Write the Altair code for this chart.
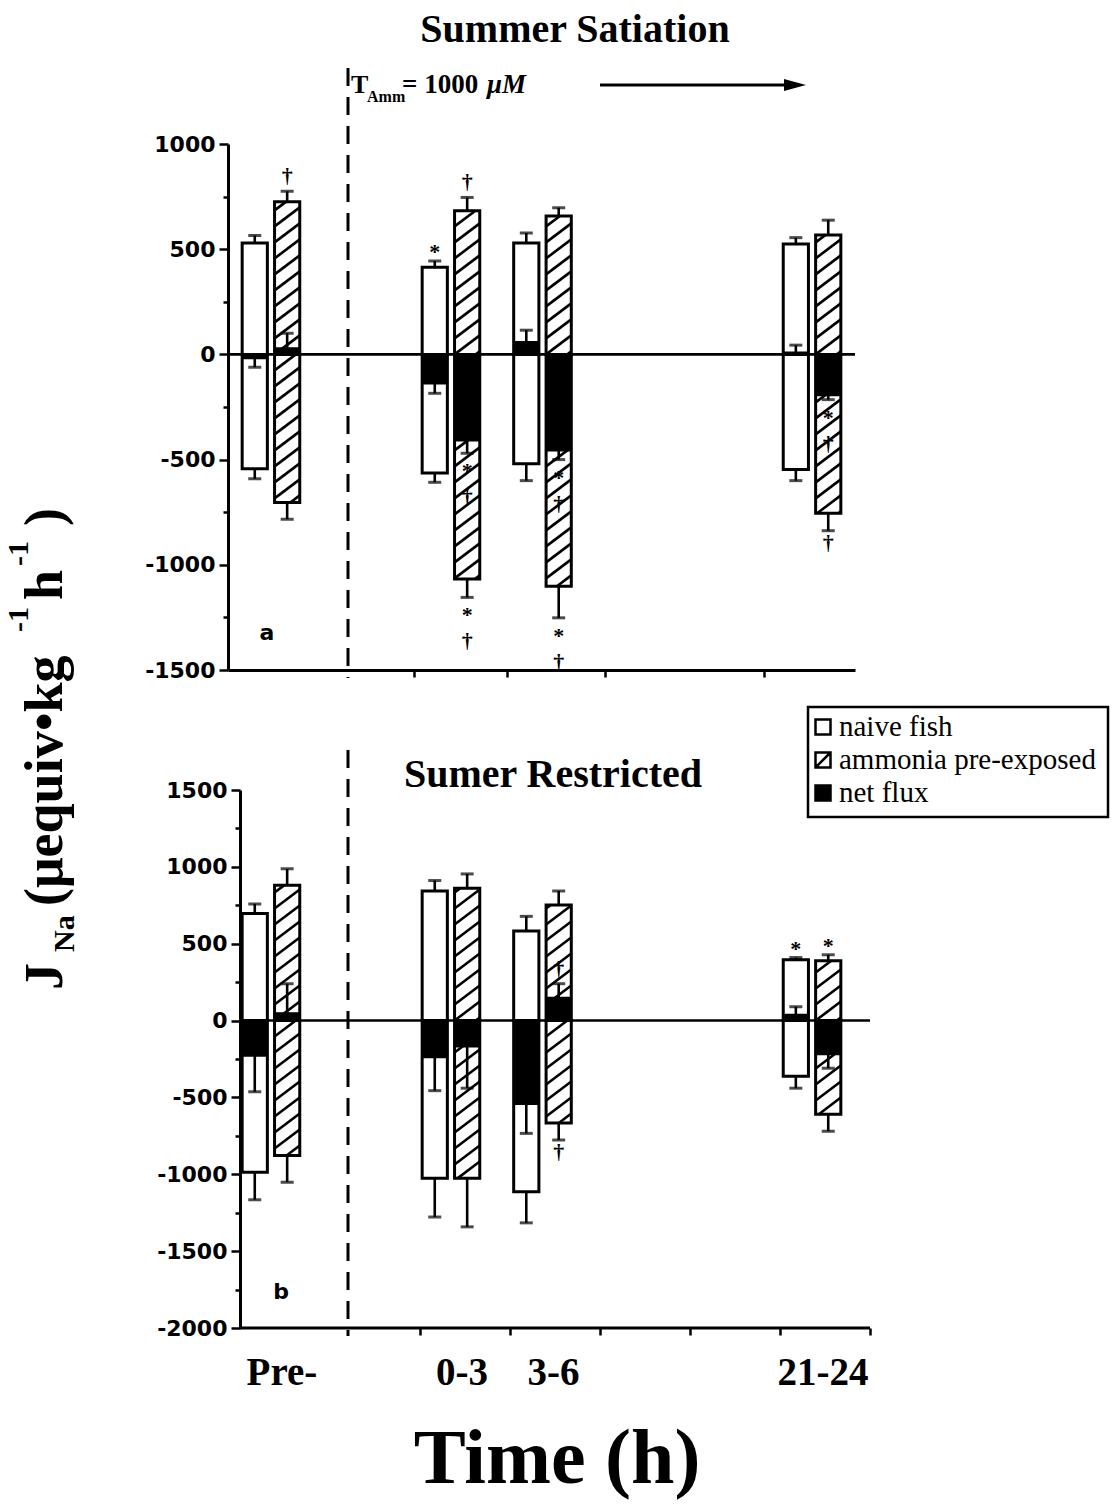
import altair as alt
import numpy as np
import pandas as pd

# ------------------------------------------------------------------ data
periods = ["Pre-", "0-3", "3-6", "21-24"]
period_x = [0.344, 2.344, 3.361, 6.356]      # placement of each sampling period on the time axis
exposure_x = 1.2                             # start of exposure to 1000 uM total ammonia
groups = ["naive fish", "ammonia pre-exposed"]
legend_items = ["naive fish", "ammonia pre-exposed", "net flux"]

# (a) summer satiation: mean Na+ influx / efflux / net flux and the end of the SEM bar
sat_naive_in = [530, 414, 529, 525]
sat_naive_in_lim = [565, 444, 577, 555]
sat_naive_out = [-543, -564, -520, -547]
sat_naive_out_lim = [-591, -608, -600, -600]
sat_naive_net = [-20, -140, 60, 10]
sat_naive_net_lim = [-61, -185, 115, 44]
sat_amm_in = [725, 683, 658, 568]
sat_amm_in_lim = [775, 746, 697, 638]
sat_amm_out = [-704, -1067, -1102, -755]
sat_amm_out_lim = [-783, -1155, -1252, -838]
sat_amm_net = [30, -410, -458, -195]
sat_amm_net_lim = [100, -470, -500, -215]

# (b) summer restricted ration
res_naive_in = [696, 843, 582, 395]
res_naive_in_lim = [759, 911, 678, 410]
res_naive_out = [-987, -1025, -1114, -363]
res_naive_out_lim = [-1165, -1278, -1316, -440]
res_naive_net = [-230, -240, -544, 40]
res_naive_net_lim = [-463, -456, -734, 90]
res_amm_in = [881, 861, 752, 389]
res_amm_in_lim = [987, 954, 843, 428]
res_amm_out = [-878, -1025, -666, -609]
res_amm_out_lim = [-1051, -1342, -777, -720]
res_amm_net = [50, -170, 150, -220]
res_amm_net_lim = [240, -440, 240, -310]

# significance symbols: (period, group, flux component, order away from the SEM cap, symbol)
sat_marks = [
    ("Pre-", "ammonia pre-exposed", "in", 1, "\u2020"),
    ("0-3", "naive fish", "in", 1, "*"),
    ("0-3", "ammonia pre-exposed", "in", 1, "\u2020"),
    ("0-3", "ammonia pre-exposed", "out", 1, "*"),
    ("0-3", "ammonia pre-exposed", "out", 2, "\u2020"),
    ("0-3", "ammonia pre-exposed", "net", 1, "*"),
    ("0-3", "ammonia pre-exposed", "net", 2, "\u2020"),
    ("3-6", "ammonia pre-exposed", "out", 1, "*"),
    ("3-6", "ammonia pre-exposed", "out", 2, "\u2020"),
    ("3-6", "ammonia pre-exposed", "net", 1, "*"),
    ("3-6", "ammonia pre-exposed", "net", 2, "\u2020"),
    ("21-24", "ammonia pre-exposed", "out", 1, "\u2020"),
    ("21-24", "ammonia pre-exposed", "net", 1, "*"),
    ("21-24", "ammonia pre-exposed", "net", 2, "\u2020"),
]
res_marks = [
    ("3-6", "ammonia pre-exposed", "net", 1, "\u2020"),
    ("3-6", "ammonia pre-exposed", "out", 1, "\u2020"),
    ("21-24", "naive fish", "in", 1, "*"),
    ("21-24", "ammonia pre-exposed", "in", 1, "*"),
]

sat_values = {
    "naive fish": {"in": (sat_naive_in, sat_naive_in_lim), "out": (sat_naive_out, sat_naive_out_lim),
                   "net": (sat_naive_net, sat_naive_net_lim)},
    "ammonia pre-exposed": {"in": (sat_amm_in, sat_amm_in_lim), "out": (sat_amm_out, sat_amm_out_lim),
                            "net": (sat_amm_net, sat_amm_net_lim)},
}
res_values = {
    "naive fish": {"in": (res_naive_in, res_naive_in_lim), "out": (res_naive_out, res_naive_out_lim),
                   "net": (res_naive_net, res_naive_net_lim)},
    "ammonia pre-exposed": {"in": (res_amm_in, res_amm_in_lim), "out": (res_amm_out, res_amm_out_lim),
                            "net": (res_amm_net, res_amm_net_lim)},
}

# ------------------------------------------------------------------ layout
PX_PER_UNIT = 90.0           # horizontal pixels per axis unit
X_MIN = -12 / PX_PER_UNIT    # left edge of both plot areas
HALF_GAP = 0.18              # bar centre offset from its period position
HALF_BAR = 0.14              # half bar width
SERIF = "Liberation Serif"
SANS = "DejaVu Sans"


def flux_table(values):
    rows = []
    for gi, g in enumerate(groups):
        for part in ("in", "out", "net"):
            means, lims = values[g][part]
            for i, p in enumerate(periods):
                xc = period_x[i] + (2 * gi - 1) * HALF_GAP
                rows.append(dict(period=p, group=g, part=part, xc=xc,
                                 x0=xc - HALF_BAR, x1=xc + HALF_BAR,
                                 zero=0, value=means[i], lim=lims[i]))
    return pd.DataFrame(rows)


def mark_table(flux, marks):
    rows = []
    for p, g, part, level, sym in marks:
        r = flux[(flux.period == p) & (flux.group == g) & (flux.part == part)].iloc[0]
        rows.append(dict(xc=r.xc, lim=r.lim, level=level, sym=sym,
                         dir="up" if r.lim > 0 else "down"))
    return pd.DataFrame(rows)


def hatch_lines(flux, ky, spacing=16.0, rise=19.0):
    """Diagonal hatching for the pre-exposed bars, built in pixel space."""
    segs = []
    amm = flux[(flux.group == groups[1]) & (flux.part != "net")]
    for r in amm.itertuples():
        lo_px, hi_px = sorted((0.0, r.value * ky))
        c = np.floor((lo_px - rise) / spacing) * spacing
        while c < hi_px:
            t0 = max(0.0, (lo_px - c) / rise)
            t1 = min(1.0, (hi_px - c) / rise)
            if t1 > t0:
                segs.append({"hx": r.x0 + t0 * (r.x1 - r.x0), "hx2": r.x0 + t1 * (r.x1 - r.x0),
                             "hy": (c + rise * t0) / ky, "hy2": (c + rise * t1) / ky})
            c += spacing
    return pd.DataFrame(segs)


def label(text, x, y, size, font=SERIF, weight="bold", style="normal", align="center",
          baseline="middle", angle=0):
    props = dict(text=text, font=font, fontSize=size, fontWeight=weight, fontStyle=style,
                 align=align, baseline=baseline, color="black")
    if angle:
        props["angle"] = angle
    return alt.Chart(pd.DataFrame({"k": [0]})).mark_text(**props).encode(
        x=alt.value(x), y=alt.value(y))


def panel(values, marks, y_lo, y_hi, width, height, x_max, axis_shift, x_ticks,
          dash_top, draw_baseline):
    ky = height / (y_hi - y_lo)
    flux = flux_table(values)
    x_scale = alt.Scale(domain=[X_MIN, x_max], nice=False, zero=False)
    y_scale = alt.Scale(domain=[y_lo, y_hi], nice=False, zero=False)
    x_axis = alt.Axis(values=x_ticks, labels=False, title=None, grid=False, tickSize=7,
                      tickWidth=2.5, tickColor="black", domain=not draw_baseline,
                      domainWidth=3, domainColor="black")
    y_axis = alt.Axis(values=list(range(y_lo, y_hi + 1, 250)),
                      labelExpr="datum.value % 500 === 0 ? '' + datum.value : ''",
                      tickSize={"condition": {"test": "datum.value % 500 === 0", "value": 9},
                                "value": 5},
                      title=None, grid=False, offset=axis_shift,
                      labelFont=SANS, labelFontWeight="bold", labelFontSize=22,
                      labelColor="black", labelPadding=4, domainColor="black", domainWidth=3,
                      tickColor="black", tickWidth=2.5)

    def X(f):
        return alt.X(f, scale=x_scale, axis=x_axis)

    def Y(f):
        return alt.Y(f, scale=y_scale, axis=y_axis)

    base = alt.Chart(flux)
    bars = base.transform_filter("datum.part != 'net'").mark_rect(
        fill="white", stroke="black", strokeWidth=3).encode(
        x=X("x0:Q"), x2="x1", y=Y("zero:Q"), y2="value")
    hatch = alt.Chart(hatch_lines(flux, ky)).mark_rule(color="black", strokeWidth=2.6).encode(
        x=X("hx:Q"), x2="hx2", y=Y("hy:Q"), y2="hy2")
    x_left = X_MIN if not draw_baseline else 0
    zero_line = alt.Chart(pd.DataFrame({"a": [x_left], "b": [x_max], "v": [0]})).mark_rule(
        color="black", strokeWidth=2.6).encode(x=X("a:Q"), x2="b", y=Y("v:Q"))
    net = base.transform_filter("datum.part == 'net'").mark_rect(
        fill="black", stroke="black", strokeWidth=1.5).encode(
        x=X("x0:Q"), x2="x1", y=Y("zero:Q"), y2="value")
    stems = base.mark_rule(color="black", strokeWidth=2.6).encode(
        x=X("xc:Q"), y=Y("value:Q"), y2="lim")
    caps = base.mark_tick(orient="horizontal", color="black", size=13, thickness=3).encode(
        x=X("xc:Q"), y=Y("lim:Q"))
    dash = alt.Chart(pd.DataFrame({"t": [exposure_x]})).mark_rule(
        color="black", strokeWidth=3, strokeDash=[18, 11]).encode(
        x=X("t:Q"), y=alt.value(dash_top), y2=alt.value(height + 8))

    layers = [bars, hatch, zero_line, net, stems, caps, dash]

    if draw_baseline:
        layers.append(alt.Chart(pd.DataFrame({"a": [0], "b": [x_max]})).mark_rule(
            color="black", strokeWidth=3).encode(x=X("a:Q"), x2="b", y=alt.value(height)))

    mdf = mark_table(flux, marks)
    offsets = {("up", 1): -15, ("up", 2): -42, ("down", 1): 12, ("down", 2): 44}
    for (d, lvl), dy in offsets.items():
        for sym, size, extra in (("*", 22, 6), ("\u2020", 22, 0)):
            sub = mdf[(mdf.dir == d) & (mdf.level == lvl) & (mdf.sym == sym)]
            if sub.empty:
                continue
            layers.append(alt.Chart(sub).mark_text(
                font=SERIF, fontWeight="bold", fontSize=size, baseline="middle",
                dy=dy + extra, color="black").encode(x=X("xc:Q"), y=Y("lim:Q"), text="sym:N"))
    return layers, X


# ---------------------------------------------------------------- panel a
TOP_W, TOP_H = 627, 526
top_layers, _ = panel(sat_values, sat_marks, -1500, 1000, TOP_W, TOP_H,
                      X_MIN + TOP_W / PX_PER_UNIT, 0, [1.93, 2.97, 4.06, 5.82],
                      dash_top=-76, draw_baseline=False)
top_layers += [
    label("Summer Satiation", 347, -114, 40),
    label("T", 123, -51, 26, align="left", baseline="alphabetic"),
    label("Amm", 139, -42, 16, align="left", baseline="alphabetic"),
    label("= 1000", 174, -51, 27, align="left", baseline="alphabetic"),
    label("\u03bcM", 259, -51, 27, style="italic", align="left", baseline="alphabetic"),
    alt.Chart(pd.DataFrame({"k": [0]})).mark_rule(color="black", strokeWidth=3).encode(
        x=alt.value(372), x2=alt.value(560), y=alt.value(-59)),
    alt.Chart(pd.DataFrame({"k": [0]})).mark_point(
        shape="M-1,-0.55L1,0L-1,0.55Z", size=22 * 22, filled=True, fill="black",
        strokeWidth=0, opacity=1).encode(x=alt.value(567), y=alt.value(-59)),
    label("a", 39, 489, 22, font=SANS),
    # rotated y-axis title J_Na (uequiv kg-1 h-1)
    label("J", -166, 846, 54, align="left", baseline="alphabetic", angle=270),
    label("Na", -154, 808, 30, align="left", baseline="alphabetic", angle=270),
    label("(\u03bcequiv\u2022kg", -166, 762, 54, align="left", baseline="alphabetic", angle=270),
    label("-1", -200, 488, 30, align="left", baseline="alphabetic", angle=270),
    label("h", -166, 456, 54, align="left", baseline="alphabetic", angle=270),
    label("-1", -200, 422, 30, align="left", baseline="alphabetic", angle=270),
    label(")", -166, 382, 54, align="left", baseline="alphabetic", angle=270),
]
top = alt.layer(*top_layers).properties(width=TOP_W, height=TOP_H)

# ---------------------------------------------------------------- panel b
BOT_W, BOT_H = 642, 538
bot_layers, Xb = panel(res_values, res_marks, -2000, 1500, BOT_W, BOT_H,
                       X_MIN + BOT_W / PX_PER_UNIT, -12, [2, 3, 4, 5, 6, 7],
                       dash_top=-40, draw_baseline=True)
period_df = pd.DataFrame({"period": periods, "px": period_x})
bot_layers += [
    label("Sumer Restricted", 325, -15, 40),
    label("b", 53, 502, 22, font=SANS),
    alt.Chart(period_df).mark_text(font=SERIF, fontWeight="bold", fontSize=39, dx=11,
                                   baseline="middle", color="black").encode(
        x=Xb("px:Q"), y=alt.value(583), text="period:N"),
    label("Time (h)", 329, 670, 78),
    # legend box
    alt.Chart(pd.DataFrame({"k": [0]})).mark_rect(fill="white", stroke="black",
                                                   strokeWidth=2.5).encode(
        x=alt.value(580), x2=alt.value(880), y=alt.value(-83), y2=alt.value(27)),
]
icon_shapes = ["square", "M-1,-1H1V1H-1ZM-1,1L1,-1", "square"]
icon_fills = ["white", "white", "black"]
for i, name in enumerate(legend_items):
    ry = -63 + 33 * i
    bot_layers.append(alt.Chart(pd.DataFrame({"k": [0]})).mark_point(
        shape=icon_shapes[i], size=225, filled=True, fill=icon_fills[i], stroke="black",
        strokeWidth=2.5, opacity=1).encode(x=alt.value(595), y=alt.value(ry)))
    bot_layers.append(label(name, 611, ry, 29, weight="normal", align="left"))
bottom = alt.layer(*bot_layers).properties(width=BOT_W, height=BOT_H)

chart = alt.vconcat(top, bottom, spacing=120, bounds="flush").properties(
    padding={"left": 4, "top": 10, "right": 0, "bottom": 4}
).configure_view(stroke=None)

chart.save("out.html", embed_options={"renderer": "svg", "actions": False})
